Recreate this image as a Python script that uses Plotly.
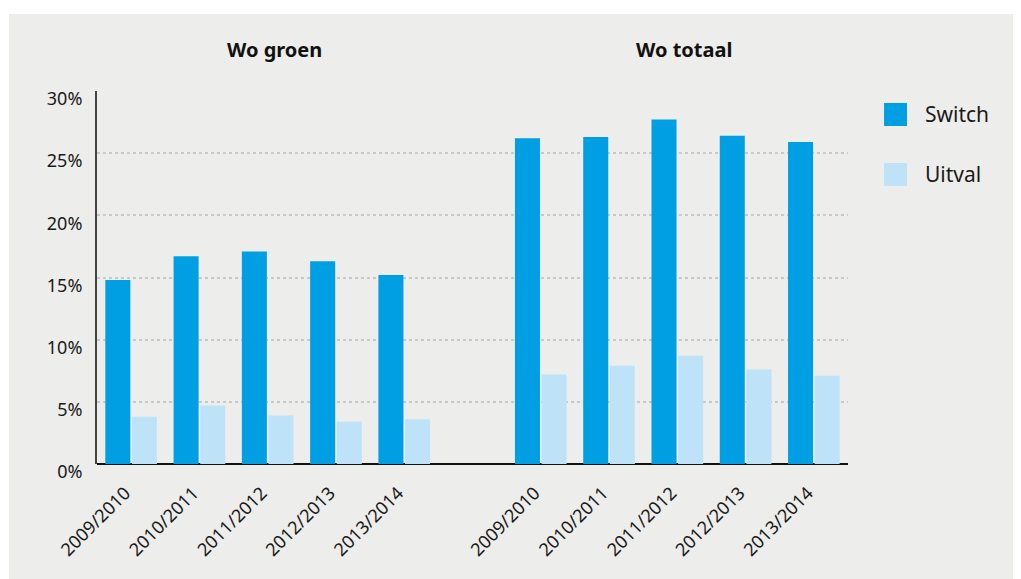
import plotly.graph_objects as go

# data
jaren = ['2009/2010', '2010/2011', '2011/2012', '2012/2013', '2013/2014']
groepen = ['Wo groen', 'Wo totaal']
switch_groen = [14.8, 16.7, 17.1, 16.3, 15.2]
uitval_groen = [3.8, 4.7, 3.9, 3.4, 3.6]
switch_totaal = [26.2, 26.3, 27.7, 26.4, 25.9]
uitval_totaal = [7.2, 7.9, 8.7, 7.6, 7.1]
y_ticks = [0, 5, 10, 15, 20, 25, 30]

dark_blue = '#009fe3'
light_blue = '#bee3f8'
panel_grey = '#ededeb'
font_family = 'Noto Sans'

# one empty slot between the two groups
x_groen = list(range(len(jaren)))
x_totaal = [i + len(jaren) + 1 for i in range(len(jaren))]
x_all = x_groen + x_totaal
labels_all = jaren + jaren

fig = go.Figure()
fig.add_trace(go.Bar(
    x=x_all, y=switch_groen + switch_totaal, name='Switch',
    marker=dict(color=dark_blue, line=dict(width=0)),
))
fig.add_trace(go.Bar(
    x=x_all, y=uitval_groen + uitval_totaal, name='Uitval',
    marker=dict(color=light_blue, line=dict(width=0)),
))

# page body has an 8px margin, so the figure is 8px smaller than the window
fig.update_layout(
    width=1013, height=571,
    margin=dict(l=89, r=173, t=83, b=115),
    paper_bgcolor=panel_grey,
    plot_bgcolor=panel_grey,
    showlegend=False,
    barmode='group',
    bargap=0.22,
    bargroupgap=0.06,
    font=dict(family=font_family, size=18, color='#1a1a1a'),
)

fig.update_xaxes(
    range=[-0.5, len(x_all) + 0.5],
    tickmode='array', tickvals=x_all, ticktext=labels_all,
    tickangle=-45, showgrid=False, zeroline=False, showline=False,
    ticklabelstandoff=14, ticklabelshift=-6,
    tickfont=dict(size=18),
)
fig.update_yaxes(
    range=[0, 30], tickmode='array', tickvals=y_ticks,
    ticktext=[f'{v}%' for v in y_ticks],
    showgrid=True, gridcolor='#c9c9c7', griddash='dot', gridwidth=1.5,
    zeroline=True, zerolinecolor='#111111', zerolinewidth=2,
    showline=True, linecolor='#444444', linewidth=2,
    ticks='', ticklabelstandoff=9, ticklabelshift=8,
    tickfont=dict(size=18),
)

# group titles
for naam, xs in zip(groepen, [x_groen, x_totaal]):
    fig.add_annotation(
        x=sum(xs) / len(xs) + 0.1, y=1.1126, xref='x', yref='paper',
        text=f'<b>{naam}</b>', showarrow=False, yanchor='middle',
        font=dict(size=20, color='#111111'),
    )

# legend drawn by hand (large squares)
legend_items = [('Switch', dark_blue, 0.9678, 0.9062), ('Uitval', light_blue, 0.807, 0.7453)]
for tekst, kleur, y1, y0 in legend_items:
    fig.add_shape(type='rect', xref='paper', yref='paper',
                  x0=1.048, x1=1.0786, y0=y0, y1=y1,
                  fillcolor=kleur, line=dict(width=0))
    fig.add_annotation(x=1.1, y=(y0 + y1) / 2, xref='paper', yref='paper',
                       text=tekst, showarrow=False, xanchor='left', yanchor='middle',
                       font=dict(size=21, color='#1a1a1a'))

# white strips so the grey panel starts a little in from the top-left
fig.add_shape(type='rect', xref='paper', yref='paper', x0=-0.2, x1=1.5,
              y0=1.2064, y1=1.3, fillcolor='white', line=dict(width=0), layer='above')
fig.add_shape(type='rect', xref='paper', yref='paper', x0=-0.2, x1=-0.1172,
              y0=-0.4, y1=1.3, fillcolor='white', line=dict(width=0), layer='above')

fig.write_html('out.html')
